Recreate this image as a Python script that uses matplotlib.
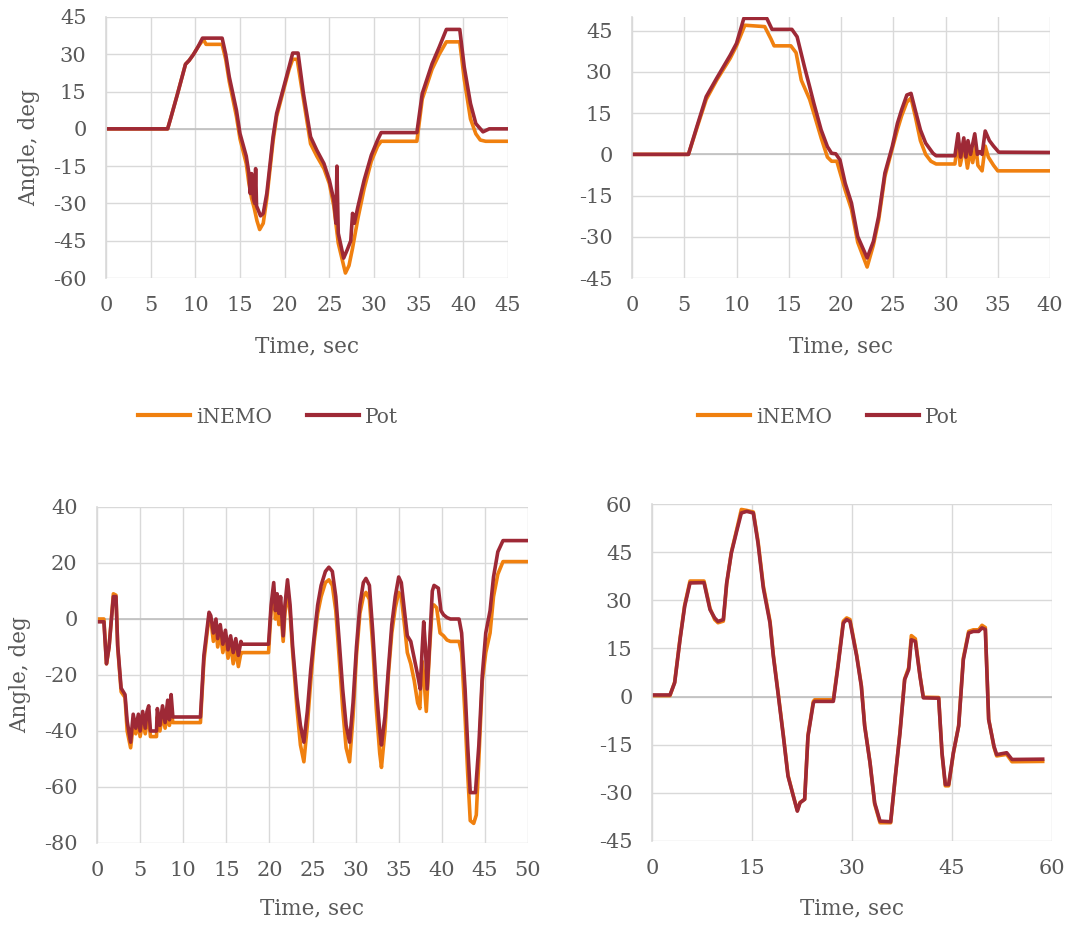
import numpy as np
import matplotlib
matplotlib.use("Agg")
import matplotlib.pyplot as plt

# (time [s], angle [deg]) pairs
inemo_1 = [(0.3, 0), (6.9, 0), (7.3, 5), (8.0, 14), (8.9, 26), (9.3, 27.5), (9.8, 30),
           (10.3, 33), (10.9, 36), (11.2, 34), (13.0, 34), (13.4, 28), (13.8, 19),
           (14.6, 5), (15.0, -4), (15.7, -14), (16.0, -22), (16.3, -28), (16.6, -32),
           (16.9, -37), (17.2, -40.5), (17.6, -38), (18.0, -28), (18.7, -5), (19.1, 5),
           (19.9, 16), (20.5, 24), (20.9, 28), (21.4, 28), (22.1, 12), (22.9, -6),
           (23.6, -11), (24.4, -16), (25.0, -22), (25.5, -31), (26.0, -46), (26.4, -52),
           (26.8, -58), (27.2, -55), (27.6, -48), (28.2, -36), (28.9, -24), (29.7, -13),
           (30.4, -7), (30.8, -5), (34.8, -5), (35.4, 12), (36.5, 24), (37.3, 30),
           (38.1, 35), (39.6, 35), (40.1, 20), (40.8, 4), (41.4, -2), (41.9, -4.5),
           (42.5, -5), (45.0, -5)]
pot_1 = [(0.3, 0), (6.9, 0), (7.3, 5), (8.0, 14), (8.9, 26), (9.3, 27.5), (9.8, 30),
         (10.3, 33), (10.8, 36.5), (13.0, 36.5), (13.4, 30), (13.8, 20.9), (14.6, 7.5),
         (15.0, -1.9), (15.7, -11), (16.0, -18), (16.15, -26), (16.3, -18), (16.5, -28),
         (16.65, -30), (16.75, -16), (16.85, -31), (17.3, -35), (17.6, -34), (18.0, -26),
         (18.7, -3.2), (19.1, 6.2), (19.9, 16.9), (20.5, 25), (20.9, 30.5), (21.5, 30.5),
         (22.1, 14.2), (22.9, -3.2), (23.6, -8.6), (24.4, -14), (25.0, -20.6),
         (25.5, -28.6), (25.75, -38), (25.85, -15), (26.0, -42), (26.3, -47), (26.6, -52),
         (27.0, -48.7), (27.4, -45), (27.6, -34), (27.8, -38), (28.2, -31.3),
         (28.9, -20.6), (29.7, -10.6), (30.4, -4.5), (30.8, -1.5), (34.8, -1.5),
         (35.4, 14.2), (36.5, 26.2), (37.3, 32.9), (38.1, 40), (39.6, 40), (40.1, 24.9),
         (40.8, 10.2), (41.4, 2.1), (42.2, -1.2), (42.9, 0), (45.0, 0)]

inemo_2 = [(0, 0), (5.4, 0), (6.2, 9.5), (7.1, 20), (8.1, 27), (9.4, 35), (10.0, 39.5),
           (10.8, 47), (12.7, 46.5), (13.3, 42), (13.6, 39.5), (15.2, 39.5), (15.7, 37),
           (16.2, 27), (17.0, 20), (17.4, 15), (18.1, 6), (18.7, -1), (19.1, -2.5),
           (19.6, -2.5), (20.4, -13), (21.0, -20), (21.6, -32), (22.5, -41), (23.1, -33),
           (23.6, -24), (24.2, -8), (24.9, 2), (25.4, 9), (25.8, 14), (26.3, 19),
           (26.7, 20.5), (27.1, 14), (27.6, 5), (28.1, 0), (28.6, -2.5), (29.1, -3.5),
           (30.9, -3.5), (31.2, 5), (31.4, -4), (31.8, 3), (32.1, -5), (32.4, 2),
           (32.6, -3), (32.9, 3), (33.1, -4), (33.5, -6), (33.8, 3), (34.1, -1),
           (34.6, -4), (35.0, -6), (40.0, -6)]
pot_2 = [(0, 0), (5.4, 0), (6.2, 10), (7.1, 21), (8.1, 27.7), (9.4, 36.1), (10.0, 40.4),
         (10.7, 49.5), (12.9, 49.5), (13.4, 45.5), (15.3, 45.5), (15.8, 42.8),
         (16.5, 31.9), (17.0, 24.6), (17.4, 18.6), (18.1, 8.9), (18.7, 2.8), (19.1, 0.4),
         (19.5, 0.2), (19.9, -2), (20.4, -10.5), (21.0, -17.7), (21.6, -29.9),
         (22.5, -37.7), (23.1, -31.7), (23.6, -22.6), (24.2, -6.8), (24.9, 2.8),
         (25.4, 11.3), (25.8, 16.2), (26.3, 21.6), (26.7, 22.2), (27.1, 16.2),
         (27.6, 8.9), (28.1, 4.1), (28.8, 0.4), (29.1, -0.5), (30.9, -0.5), (31.2, 7.5),
         (31.45, -1), (31.75, 6), (31.95, -1), (32.15, 5), (32.4, 0), (32.8, 7.5),
         (33.05, 0), (33.3, 1), (33.5, 0), (33.8, 8.5), (34.2, 5), (34.6, 3),
         (35.1, 0.8), (40.0, 0.7)]

inemo_3 = [(0, 0), (0.8, 0), (1.1, -16), (1.4, -10), (1.9, 9), (2.2, 8.5), (2.4, -10),
           (2.8, -26), (3.25, -28), (3.5, -40), (3.9, -46), (4.2, -38), (4.5, -41),
           (4.8, -37), (5.0, -42), (5.3, -37), (5.6, -41), (5.8, -37), (6.0, -35),
           (6.2, -42), (6.9, -42), (7.0, -35), (7.3, -40), (7.6, -34), (7.9, -39),
           (8.2, -33), (8.4, -38), (8.6, -32), (8.8, -37), (12.0, -37), (12.4, -15),
           (13.0, 1), (13.2, 0), (13.5, -8), (13.8, -3), (14.0, -10), (14.3, -5),
           (14.6, -12), (14.9, -7), (15.2, -14), (15.5, -9), (15.8, -16), (16.1, -11),
           (16.4, -17), (16.7, -12), (16.8, -12), (19.9, -12), (20.2, 3), (20.5, 10),
           (20.7, 0), (20.9, 5), (21.1, -2), (21.3, 4), (21.6, -8), (21.8, 2), (22.1, 10),
           (22.4, 2), (22.7, -12), (23.2, -32), (23.6, -45), (24.0, -51), (24.4, -38),
           (24.8, -22), (25.2, -8), (25.6, 2), (26.0, 8), (26.5, 13), (26.9, 14),
           (27.3, 12), (27.7, 3), (28.1, -14), (28.5, -32), (28.9, -46), (29.3, -51),
           (29.7, -35), (30.1, -13), (30.5, 2), (30.9, 8), (31.2, 9.5), (31.6, 7),
           (32.0, -10), (32.4, -32), (32.8, -48), (33.0, -53), (33.4, -40), (33.8, -20),
           (34.2, -5), (34.6, 4), (35.0, 9.5), (35.3, 8), (35.7, -3), (36.0, -12),
           (36.4, -16), (36.8, -22), (37.2, -30), (37.45, -32), (37.7, -15), (37.9, -20),
           (38.2, -33), (38.6, -10), (38.9, 5), (39.1, 5), (39.4, 4), (39.8, -5),
           (40.2, -6), (40.6, -7.5), (41.0, -8), (42.0, -8), (42.3, -12), (42.7, -35),
           (43.0, -55), (43.3, -72), (43.7, -73), (44.0, -70), (44.3, -50), (44.7, -22),
           (45.1, -12), (45.6, -5), (46.0, 8), (46.5, 16), (47.1, 20.5), (50.0, 20.5)]
pot_3 = [(0, -1), (0.8, -1), (1.1, -16), (1.4, -10), (1.9, 8), (2.2, 8), (2.4, -9.4),
         (2.8, -24.7), (3.25, -27), (3.5, -36.5), (3.9, -44), (4.2, -34), (4.5, -39),
         (4.8, -34), (5.0, -40), (5.3, -33), (5.6, -39), (5.8, -33), (6.0, -31),
         (6.2, -40), (6.9, -40), (7.0, -32), (7.3, -38), (7.6, -31), (7.9, -37),
         (8.2, -29), (8.4, -36), (8.6, -27), (8.8, -35), (12.0, -35), (12.4, -13),
         (13.0, 2.4), (13.2, 1.2), (13.5, -5), (13.8, 0), (14.0, -7), (14.3, -2),
         (14.6, -9), (14.9, -4), (15.2, -11), (15.5, -6), (15.8, -12), (16.1, -7),
         (16.4, -13), (16.7, -8), (16.8, -9), (19.9, -9), (20.2, 5), (20.5, 13),
         (20.7, 3), (20.9, 9), (21.1, 2), (21.3, 8), (21.6, -6), (21.8, 5), (22.1, 14),
         (22.4, 5), (22.7, -10), (23.2, -28), (23.6, -38), (24.0, -44), (24.4, -33),
         (24.8, -18), (25.2, -6), (25.6, 5), (26.0, 12), (26.5, 17), (26.9, 18.5),
         (27.3, 17), (27.7, 8), (28.1, -8), (28.5, -25), (28.9, -38), (29.3, -44),
         (29.7, -30), (30.1, -10), (30.5, 5), (30.9, 13), (31.2, 14.5), (31.6, 12),
         (32.0, -5), (32.4, -25), (32.8, -40), (33.0, -45), (33.4, -35), (33.8, -18),
         (34.2, -2), (34.6, 8), (35.0, 15), (35.3, 13), (35.7, 2), (36.0, -6),
         (36.4, -8), (36.8, -14), (37.2, -20), (37.5, -25), (37.7, -12), (37.9, -1),
         (38.1, -10), (38.3, -25), (38.6, -8), (38.9, 10), (39.1, 12), (39.6, 11),
         (39.9, 3), (40.2, 1.5), (40.6, 0.5), (41.0, 0), (42.0, 0), (42.3, -5),
         (42.7, -25), (43.0, -45), (43.3, -62), (43.9, -62), (44.3, -45), (44.7, -20),
         (45.1, -5), (45.6, 3), (46.0, 15), (46.5, 24), (47.1, 28), (50.0, 28)]

inemo_4 = [(0, 0.3), (2.7, 0.3), (3.4, 4.5), (4.2, 18), (4.9, 28.5), (5.7, 36), (7.8, 36),
           (8.7, 27.5), (9.4, 24), (9.9, 23), (10.7, 23.5), (11.2, 35), (11.9, 45),
           (12.7, 52), (13.4, 58.3), (14.2, 58), (15.2, 57.5), (15.9, 48.5), (16.7, 34.5),
           (17.7, 23.5), (18.2, 13), (18.9, 1.5), (19.7, -12), (20.4, -24.5), (21.2, -31),
           (21.8, -35.5), (22.2, -33), (22.9, -32), (23.4, -12), (24.2, -1.5), (24.4, -1),
           (27.2, -1), (27.9, 9.8), (28.7, 23.5), (29.2, 24.5), (29.7, 24), (30.7, 13),
           (31.4, 3.5), (31.9, -9), (32.7, -20.5), (33.4, -33.5), (34.2, -39.3),
           (35.8, -39.3), (36.5, -25), (37.2, -11), (37.9, 5.5), (38.5, 9), (38.9, 19),
           (39.5, 18), (40.2, 6.5), (40.7, -0.2), (43.0, -0.3), (43.5, -17.8),
           (44.0, -27.8), (44.5, -27.8), (45.2, -17.8), (46.0, -9), (46.7, 12),
           (47.5, 20.3), (48.2, 20.8), (49.0, 20.8), (49.5, 22.2), (50.0, 21.5),
           (50.5, -7), (51.3, -15.8), (51.7, -18.5), (53.2, -18), (54.0, -20.3),
           (58.6, -20.2)]
pot_4 = [(0, 0.5), (2.7, 0.5), (3.4, 4.3), (4.2, 17.7), (4.9, 28.1), (5.7, 35.4),
         (7.8, 35.5), (8.7, 27.1), (9.4, 24.5), (9.9, 23.4), (10.7, 24), (11.2, 35.4),
         (11.9, 44.7), (12.7, 51.5), (13.4, 57.2), (14.2, 57.7), (15.2, 57.2),
         (15.9, 47.8), (16.7, 33.8), (17.7, 22.9), (18.2, 12.6), (18.9, 1.1),
         (19.7, -12.3), (20.4, -24.8), (21.2, -31), (21.8, -35.7), (22.2, -33.1),
         (22.9, -32), (23.4, -12.3), (24.2, -2), (24.4, -1.5), (27.2, -1.5), (27.9, 9.4),
         (28.7, 22.9), (29.2, 24), (29.7, 23.4), (30.7, 12.6), (31.4, 3.2), (31.9, -9.2),
         (32.7, -20.6), (33.4, -33.1), (34.2, -38.8), (35.8, -39), (36.5, -24.8),
         (37.2, -11.3), (37.9, 5.3), (38.5, 8.4), (38.9, 17.7), (39.5, 17.2), (40.2, 6.3),
         (40.7, -0.4), (43.0, -0.5), (43.5, -17.5), (44.0, -27.4), (44.5, -27.4),
         (45.2, -17.5), (46.0, -9.2), (46.7, 11.5), (47.5, 19.8), (48.2, 20.3),
         (49.0, 20.3), (49.5, 21.4), (50.0, 20.9), (50.5, -7.2), (51.3, -15.5),
         (51.7, -18.1), (53.2, -17.5), (54.0, -19.6), (58.6, -19.5)]

x_limits = [(0, 45), (0, 40), (0, 50), (0, 60)]
y_limits = [(-60, 45), (-45, 50), (-80, 40), (-45, 60)]
x_steps = [5, 5, 5, 15]
y_ticks = [np.arange(-60, 46, 15), np.arange(-45, 46, 15),
           np.arange(-80, 41, 20), np.arange(-45, 61, 15)]

ORANGE = "#F0800F"
DARKRED = "#9E2936"
GRID = "#D9D9D9"
TEXT = "#595959"

plt.rcParams["font.family"] = ["DejaVu Serif"]
plt.rcParams["font.size"] = 15
plt.rcParams["axes.unicode_minus"] = False

fig = plt.figure(figsize=(10.67, 9.25), dpi=100)
W, H = 1067, 925
# pixel boxes (left, right, top, bottom) of the four plot areas
boxes = [(106, 508, 17, 278), (632, 1050, 17, 278),
         (97, 528, 507, 843), (652, 1052, 504, 841)]
series = [(inemo_1, pot_1), (inemo_2, pot_2), (inemo_3, pot_3), (inemo_4, pot_4)]

axes = []
for i, (l, r, t, b) in enumerate(boxes):
    ax = fig.add_axes([l / W, 1 - b / H, (r - l) / W, (b - t) / H])
    inemo, pot = series[i]
    ti, ai = np.array(inemo).T
    tp, ap = np.array(pot).T
    ax.plot(ti, ai, color=ORANGE, lw=2.6, label="iNEMO", solid_joinstyle="round")
    ax.plot(tp, ap, color=DARKRED, lw=2.6, label="Pot", solid_joinstyle="round")

    ax.set_xlim(*x_limits[i])
    ax.set_ylim(*y_limits[i])
    ax.set_xticks(np.arange(x_limits[i][0], x_limits[i][1] + 1, x_steps[i]))
    ax.set_yticks(y_ticks[i])
    ax.grid(True, color=GRID, lw=1.0)
    ax.set_axisbelow(True)
    ax.axhline(0, color="#BFBFBF", lw=1.2, zorder=1)
    for side in ["top", "right", "bottom"]:
        ax.spines[side].set_visible(False)
    ax.spines["left"].set_color(GRID)
    ax.spines["left"].set_linewidth(1.2)
    ax.tick_params(length=0, colors=TEXT, labelsize=15)
    ax.tick_params(axis="x", pad=13)
    ax.tick_params(axis="y", pad=14)

    ax.set_xlabel("Time, sec", color=TEXT, fontsize=15.5)
    ax.xaxis.set_label_coords(0.5, (b - (335 if i < 2 else 897)) / (b - t))
    if i in (0, 2):
        ax.set_ylabel("Angle, deg", color=TEXT, fontsize=15.5)
        ax.yaxis.set_label_coords(-0.165 if i == 0 else -0.152, 0.5)
    axes.append(ax)

handles, labels = axes[0].get_legend_handles_labels()
for cx in (268, 828):
    leg = fig.legend(handles, labels, loc="center", bbox_to_anchor=(cx / W, 1 - 417 / H),
                     ncol=2, frameon=False, fontsize=14.5, handlelength=2.6,
                     handletextpad=0.3, columnspacing=1.7)
    for txt in leg.get_texts():
        txt.set_color(TEXT)
    for ln in leg.get_lines():
        ln.set_linewidth(3)

fig.savefig("out.png", dpi=100)
